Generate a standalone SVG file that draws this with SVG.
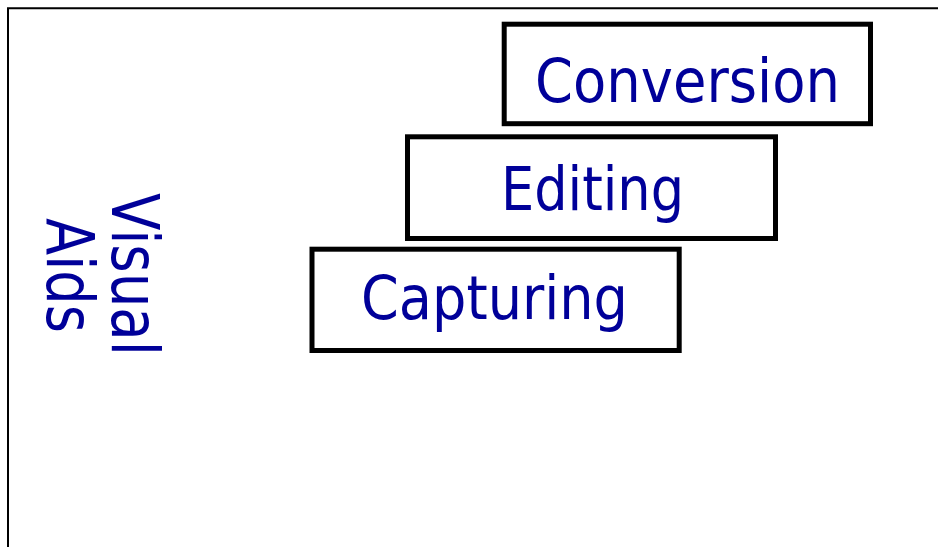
<svg xmlns="http://www.w3.org/2000/svg" width="938" height="547" viewBox="0 0 938 547">
  <style>
    .box { fill: #ffffff; stroke: #000000; stroke-width: 5; }
    .lbl { font-family: "DejaVu Sans", "Liberation Sans", sans-serif; font-size: 60px; fill: #000099; text-anchor: middle; }
    .side { font-family: "DejaVu Sans", "Liberation Sans", sans-serif; font-size: 65px; fill: #000099; }
  </style>
  <rect width="938" height="547" fill="#ffffff"/>
  <g id="frame">
    <path d="M8,547 V8.3 H938" fill="none" stroke="#000000" stroke-width="2"/>
  </g>
  <g id="visual-aids">
    <text class="side" transform="rotate(90)" x="193" y="-112" textLength="163" lengthAdjust="spacingAndGlyphs">Visual</text>
    <text class="side" transform="rotate(90)" x="218" y="-46.7" textLength="115" lengthAdjust="spacingAndGlyphs">Aids</text>
  </g>
  <g id="capturing">
    <rect class="box" x="312" y="249.2" width="367.2" height="101.3"/>
    <text class="lbl" x="494.5" y="318.5" textLength="267" lengthAdjust="spacingAndGlyphs">Capturing</text>
  </g>
  <g id="editing">
    <rect class="box" x="407.5" y="136.8" width="368" height="101.7"/>
    <text class="lbl" x="592.5" y="210" textLength="183" lengthAdjust="spacingAndGlyphs">Editing</text>
  </g>
  <g id="conversion">
    <rect class="box" x="504.2" y="24.2" width="366.3" height="99.5"/>
    <text class="lbl" x="687.5" y="101.5" textLength="305" lengthAdjust="spacingAndGlyphs">Conversion</text>
  </g>
  <g id="connectors"></g>
</svg>
